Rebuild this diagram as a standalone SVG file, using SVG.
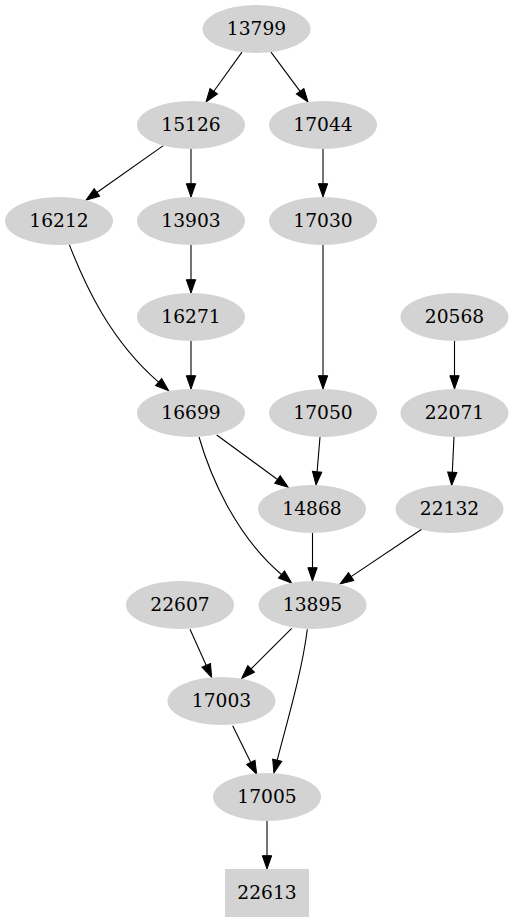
<svg xmlns="http://www.w3.org/2000/svg" width="514" height="923" viewBox="0 0 514 923">
<style>
.n ellipse, .n rect { fill: #d3d3d3; stroke: none; }
.n text { font-family: "DejaVu Serif", "Liberation Serif", serif; font-size: 18.67px; fill: #000; text-anchor: middle; }
#edges path { fill: none; stroke: #000; stroke-width: 1.1; marker-end: url(#arr); }
</style>
<defs>
<marker id="arr" markerUnits="userSpaceOnUse" markerWidth="14" markerHeight="10" refX="0" refY="4.67" orient="auto" overflow="visible">
<path d="M0,0 L13.33,4.67 L0,9.33 z" fill="#000" stroke="#000" stroke-width="1"/>
</marker>
</defs>
<rect width="514" height="923" fill="#fff"/>
<g id="edges">
<path d="M242,52.1 L213.8,91.2"/>
<path d="M271,52.1 L300.1,91.3"/>
<path d="M163.3,145.6 L96.9,192.5"/>
<path d="M191,149 L191,183.7"/>
<path d="M323,149 L323,183.7"/>
<path d="M191,245 L191,279.7"/>
<path d="M191,341 L191,375.7"/>
<path d="M69.3,244.6 C85,285 110,340 158.6,382.1"/>
<path d="M323,245 L323,375.7"/>
<path d="M454.5,341 L454.5,375.7"/>
<path d="M454,437 L452.3,472.2"/>
<path d="M216.7,435 L277.5,479.5"/>
<path d="M320,437 L317.1,471.8"/>
<path d="M199,437 C210,475 235,535 281.5,574.5"/>
<path d="M312.5,533 L312.5,567.7"/>
<path d="M421.7,529.3 L351.1,576.6"/>
<path d="M190,629.3 L206.2,665.3"/>
<path d="M291.7,628.3 L251.1,668.9"/>
<path d="M307.3,629.3 C302,672 287,722 277.2,760.2"/>
<path d="M232.7,725.7 L250.8,762.4"/>
<path d="M267,821 L267,855.7"/>
</g>
<g id="n13799" class="n"><ellipse cx="256.5" cy="29" rx="54" ry="24"/><text x="256.5" y="34.7">13799</text></g>
<g id="n15126" class="n"><ellipse cx="191" cy="125" rx="54" ry="24"/><text x="191" y="130.7">15126</text></g>
<g id="n17044" class="n"><ellipse cx="323" cy="125" rx="54" ry="24"/><text x="323" y="130.7">17044</text></g>
<g id="n16212" class="n"><ellipse cx="59" cy="221" rx="54" ry="24"/><text x="59" y="226.7">16212</text></g>
<g id="n13903" class="n"><ellipse cx="191" cy="221" rx="54" ry="24"/><text x="191" y="226.7">13903</text></g>
<g id="n17030" class="n"><ellipse cx="323" cy="221" rx="54" ry="24"/><text x="323" y="226.7">17030</text></g>
<g id="n16271" class="n"><ellipse cx="191" cy="317" rx="54" ry="24"/><text x="191" y="322.7">16271</text></g>
<g id="n20568" class="n"><ellipse cx="454.5" cy="317" rx="54" ry="24"/><text x="454.5" y="322.7">20568</text></g>
<g id="n16699" class="n"><ellipse cx="191" cy="413" rx="54" ry="24"/><text x="191" y="418.7">16699</text></g>
<g id="n17050" class="n"><ellipse cx="323" cy="413" rx="54" ry="24"/><text x="323" y="418.7">17050</text></g>
<g id="n22071" class="n"><ellipse cx="454.5" cy="413" rx="54" ry="24"/><text x="454.5" y="418.7">22071</text></g>
<g id="n14868" class="n"><ellipse cx="312" cy="509" rx="54" ry="24"/><text x="312" y="514.7">14868</text></g>
<g id="n22132" class="n"><ellipse cx="449.5" cy="509" rx="54" ry="24"/><text x="449.5" y="514.7">22132</text></g>
<g id="n22607" class="n"><ellipse cx="180" cy="605" rx="54" ry="24"/><text x="180" y="610.7">22607</text></g>
<g id="n13895" class="n"><ellipse cx="312.5" cy="605" rx="54" ry="24"/><text x="312.5" y="610.7">13895</text></g>
<g id="n17003" class="n"><ellipse cx="221.5" cy="701" rx="54" ry="24"/><text x="221.5" y="706.7">17003</text></g>
<g id="n17005" class="n"><ellipse cx="267" cy="797" rx="54" ry="24"/><text x="267" y="802.7">17005</text></g>
<g id="n22613" class="n"><rect x="225" y="869" width="84" height="48"/><text x="267" y="898.7">22613</text></g>
</svg>
